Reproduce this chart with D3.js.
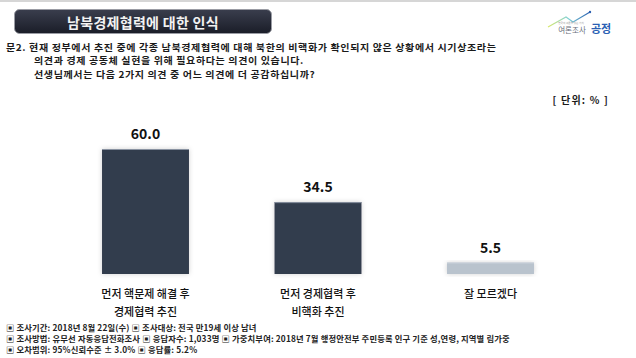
<!DOCTYPE html>
<html>
<head>
<meta charset="utf-8">
<script src="https://cdn.jsdelivr.net/npm/d3@7"></script>
<style>
  body { margin: 0; background: #fff; }
  svg { display: block; font-family: "Noto Sans CJK KR", "Noto Sans", sans-serif; }
</style>
</head>
<body>
<script>
// chart data
var categories = ["먼저 핵문제 해결 후|경제협력 추진", "먼저 경제협력 후|비핵화 추진", "잘 모르겠다"];
var values = [60.0, 34.5, 5.5];
var barColors = ["#323c4e", "#323c4e", "#b9c3cd"];

var questionLines = [
  "문2. 현재 정부에서 추진 중에 각종 남북경제협력에 대해 북한의 비핵화가 확인되지 않은 상황에서 시기상조라는",
  "의견과 경제 공동체 실현을 위해 필요하다는 의견이 있습니다.",
  "선생님께서는 다음 2가지 의견 중 어느 의견에 더 공감하십니까?"
];
var footerLines = [
  "▣ 조사기간: 2018년 8월 22일(수) ▣ 조사대상: 전국 만19세 이상 남녀",
  "▣ 조사방법: 유무선 자동응답전화조사 ▣ 응답자수: 1,033명 ▣ 가중치부여: 2018년 7월 행정안전부 주민등록 인구 기준 성,연령, 지역별 림가중",
  "▣ 오차범위: 95%신뢰수준 ± 3.0% ▣ 응답률: 5.2%"
];

var w = 636, h = 358;

var svg = d3.select("body").append("svg")
  .attr("width", w)
  .attr("height", h);

var defs = svg.append("defs");

var grad = defs.append("linearGradient")
  .attr("id", "titleGrad")
  .attr("x1", 0).attr("y1", 0).attr("x2", 0).attr("y2", 1);
grad.append("stop").attr("offset", "0%").attr("stop-color", "#3a3e4d");
grad.append("stop").attr("offset", "100%").attr("stop-color", "#1a1d28");

var logoGrad = defs.append("linearGradient")
  .attr("id", "logoGrad")
  .attr("x1", 0).attr("y1", 0).attr("x2", 1).attr("y2", 0);
logoGrad.append("stop").attr("offset", "0%").attr("stop-color", "#d8e86a");
logoGrad.append("stop").attr("offset", "50%").attr("stop-color", "#7fd0d8");
logoGrad.append("stop").attr("offset", "100%").attr("stop-color", "#2a5fb0");

var shadow = defs.append("filter")
  .attr("id", "barShadow")
  .attr("x", "-20%").attr("y", "-20%").attr("width", "140%").attr("height", "140%");
shadow.append("feDropShadow")
  .attr("dx", 0).attr("dy", 0)
  .attr("stdDeviation", 2.5)
  .attr("flood-color", "#000")
  .attr("flood-opacity", 0.18);

// top border line
svg.append("rect")
  .attr("x", 0).attr("y", 0)
  .attr("width", w).attr("height", 2)
  .attr("fill", "#d6d6d6");

// title box
svg.append("rect")
  .attr("x", 14.5).attr("y", 9.5)
  .attr("width", 257).attr("height", 24)
  .attr("rx", 5)
  .attr("fill", "url(#titleGrad)")
  .attr("stroke", "#9a9ca4")
  .attr("stroke-width", 1);

svg.append("text")
  .attr("x", 143).attr("y", 22)
  .attr("text-anchor", "middle")
  .attr("dominant-baseline", "central")
  .attr("fill", "#f2f2f2")
  .attr("font-size", 14)
  .attr("font-weight", 700)
  .attr("letter-spacing", 0.3)
  .text("남북경제협력에 대한 인식");

// logo
var logo = svg.append("g");
logo.append("polyline")
  .attr("points", "548,27 566,17 573,22 590,12")
  .attr("fill", "none")
  .attr("stroke", "url(#logoGrad)")
  .attr("stroke-width", 1.2);
logo.append("circle").attr("cx", 590).attr("cy", 12).attr("r", 1.2).attr("fill", "#2a5fb0");
logo.append("text")
  .attr("x", 571).attr("y", 23.5)
  .attr("text-anchor", "middle")
  .attr("font-size", 2.6)
  .attr("fill", "#999")
  .text("한국의 여론을 읽는 가치");
logo.append("text")
  .attr("x", 572).attr("y", 32.5)
  .attr("text-anchor", "middle")
  .attr("font-size", 7.5)
  .attr("fill", "#6a6f7c")
  .text("여론조사");
logo.append("text")
  .attr("x", 591).attr("y", 33)
  .attr("font-size", 11)
  .attr("font-weight", 700)
  .attr("fill", "#2b5fb4")
  .text("공정");

// question text (slightly widened glyphs like the original)
var qScale = 1.08;
svg.append("g")
  .attr("transform", "scale(" + qScale + ",1)")
  .selectAll("text")
  .data(questionLines)
  .enter()
  .append("text")
  .attr("x", function(d, i) { return (i === 0 ? 6 : 34) / qScale; })
  .attr("y", function(d, i) { return 51 + i * 13.5; })
  .attr("font-size", 9.3)
  .attr("font-weight", 700)
  .attr("letter-spacing", 0.57)
  .attr("fill", "#1a1a1a")
  .text(function(d) { return d; });

svg.append("text")
  .attr("x", 609).attr("y", 103.5)
  .attr("text-anchor", "end")
  .attr("font-size", 10)
  .attr("font-weight", 700)
  .attr("letter-spacing", 1.2)
  .attr("fill", "#1a1a1a")
  .text("[ 단위: % ]");

// scales
var x = d3.scaleBand()
  .domain(categories)
  .range([59.25, 576.75])
  .paddingInner(0.496)
  .paddingOuter(0.248);

var y = d3.scaleLinear()
  .domain([0, 60])
  .range([274, 149]);

var bars = svg.append("g");

bars.selectAll("rect")
  .data(values)
  .enter()
  .append("rect")
  .attr("x", function(d, i) { return x(categories[i]); })
  .attr("y", function(d) { return y(d); })
  .attr("width", x.bandwidth())
  .attr("height", function(d) { return y(0) - y(d); })
  .attr("fill", function(d, i) { return barColors[i]; })
  .attr("filter", "url(#barShadow)");

// light top edge on the bars
bars.selectAll("line")
  .data(values)
  .enter()
  .append("line")
  .attr("x1", function(d, i) { return x(categories[i]); })
  .attr("x2", function(d, i) { return x(categories[i]) + x.bandwidth(); })
  .attr("y1", function(d) { return y(d) + 0.5; })
  .attr("y2", function(d) { return y(d) + 0.5; })
  .attr("stroke", function(d, i) { return i < 2 ? "#8a93a2" : "#c9d1d9"; })
  .attr("stroke-width", 1);

// value labels
svg.append("g").selectAll("text")
  .data(values)
  .enter()
  .append("text")
  .attr("x", function(d, i) { return x(categories[i]) + x.bandwidth() / 2; })
  .attr("y", function(d) { return y(d) - 16; })
  .attr("text-anchor", "middle")
  .attr("dominant-baseline", "central")
  .attr("font-size", 14)
  .attr("font-weight", 700)
  .attr("fill", "#111")
  .text(function(d) { return d.toFixed(1); });

// category labels
var catG = svg.append("g");
categories.forEach(function(c, i) {
  c.split("|").forEach(function(line, j) {
    catG.append("text")
      .attr("x", x(c) + x.bandwidth() / 2)
      .attr("y", 293 + j * 18)
      .attr("text-anchor", "middle")
      .attr("dominant-baseline", "central")
      .attr("font-size", 11)
      .attr("font-weight", 500)
      .attr("fill", "#111")
      .text(line);
  });
});

// footer
svg.append("g").selectAll("text")
  .data(footerLines)
  .enter()
  .append("text")
  .attr("x", 6)
  .attr("y", function(d, i) { return 331 + i * 10.8; })
  .attr("font-size", 8.3)
  .attr("font-weight", 700)
  .attr("letter-spacing", 0.15)
  .attr("fill", "#222")
  .text(function(d) { return d; });
</script>
</body>
</html>
